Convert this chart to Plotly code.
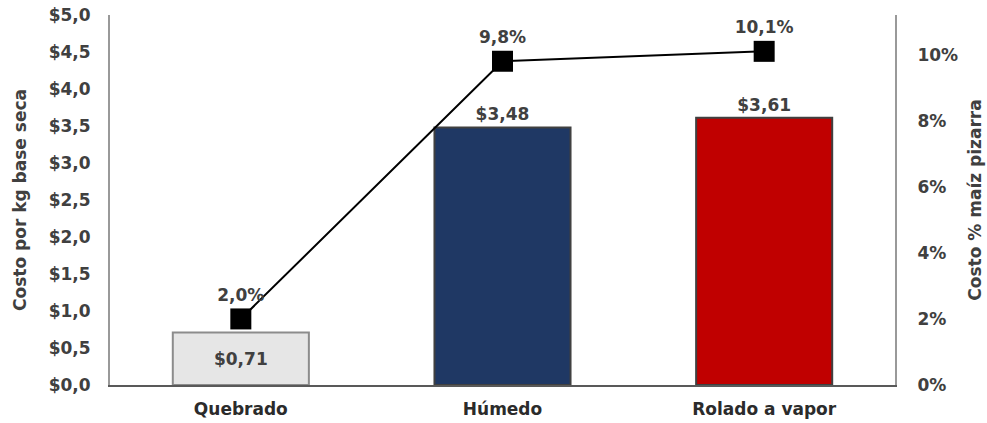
import plotly.graph_objects as go

categories = ["Quebrado", "Húmedo", "Rolado a vapor"]
costo_kg = [0.71, 3.48, 3.61]
costo_pct = [0.020, 0.098, 0.101]
bar_labels = ["$0,71", "$3,48", "$3,61"]
pct_labels = ["2,0%", "9,8%", "10,1%"]
left_ticks = [0, 0.5, 1.0, 1.5, 2.0, 2.5, 3.0, 3.5, 4.0, 4.5, 5.0]
left_ticktext = ["$0,0", "$0,5", "$1,0", "$1,5", "$2,0", "$2,5", "$3,0", "$3,5", "$4,0", "$4,5", "$5,0"]
right_ticks = [0, 0.02, 0.04, 0.06, 0.08, 0.10]
right_ticktext = ["0%", "2%", "4%", "6%", "8%", "10%"]

bar_colors = ["#e6e6e6", "#1f3864", "#c00000"]
bar_lines = ["#8c8c8c", "#404040", "#404040"]
font_fam = "DejaVu Sans, sans-serif"
txt_col = "#404040"
FS = 17

fig = go.Figure()
fig.add_trace(go.Bar(
    x=categories, y=costo_kg,
    marker=dict(color=bar_colors, line=dict(color=bar_lines, width=2)),
    width=0.52,
    text=bar_labels,
    textposition=["inside", "outside", "outside"],
    insidetextanchor="middle",
    textangle=0,
    cliponaxis=False,
    textfont=dict(family=font_fam, size=FS, color=txt_col, weight="bold"),
    showlegend=False,
))
fig.add_trace(go.Scatter(
    x=categories, y=costo_pct, yaxis="y2",
    mode="lines+markers+text",
    line=dict(color="black", width=2),
    marker=dict(symbol="square", size=21, color="black"),
    text=pct_labels,
    textposition="top center",
    cliponaxis=False,
    textfont=dict(family=font_fam, size=FS, color=txt_col, weight="bold"),
    showlegend=False,
))

fig.update_layout(
    width=987, height=423,
    margin=dict(l=110, r=92, t=15, b=38),
    plot_bgcolor="white", paper_bgcolor="white",
    font=dict(family=font_fam, size=FS, color=txt_col),
    uniformtext=dict(minsize=FS, mode="show"),
    xaxis=dict(
        automargin=False,
        showgrid=False, showline=True, linecolor="#595959", linewidth=2,
        ticks="", ticklabelstandoff=8,
        tickfont=dict(family=font_fam, size=FS, color="#2b2b2b", weight="bold"),
    ),
    yaxis=dict(
        automargin=False,
        range=[0, 5.0], tickvals=left_ticks, ticktext=left_ticktext,
        showgrid=False, zeroline=False, showline=True, linecolor="#999999", linewidth=2,
        ticks="", ticklabelstandoff=14,
        tickfont=dict(family=font_fam, size=FS, color=txt_col, weight="bold"),
        title=dict(text="Costo por kg base seca", standoff=18,
                   font=dict(family=font_fam, size=FS, color=txt_col, weight="bold")),
    ),
    yaxis2=dict(
        automargin=False,
        range=[0, 0.112], overlaying="y", side="right",
        tickvals=right_ticks, ticktext=right_ticktext,
        showgrid=False, zeroline=False, showline=True, linecolor="#999999", linewidth=2,
        ticks="", ticklabelstandoff=17,
        tickfont=dict(family=font_fam, size=FS, color=txt_col, weight="bold"),
        title=dict(text="Costo % maíz pizarra", standoff=12,
                   font=dict(family=font_fam, size=FS, color=txt_col, weight="bold")),
    ),
    bargap=0.48,
)

fig.write_html("out.html")
